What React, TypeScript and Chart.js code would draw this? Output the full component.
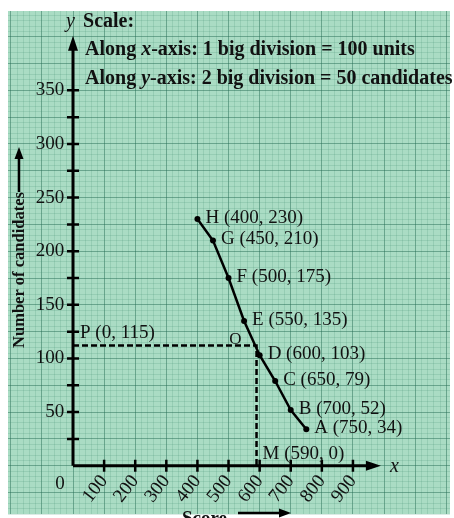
import React, { useEffect, useRef } from 'react';
import { Chart, registerables } from 'chart.js';

Chart.register(...registerables);

// ---- data ----
const pointNames = ['H', 'G', 'F', 'E', 'D', 'C', 'B', 'A'];
const scores = [400, 450, 500, 550, 600, 650, 700, 750];
const candidates = [230, 210, 175, 135, 103, 79, 52, 34];
const medianScore = 590; // M (590, 0)
const medianLevel = 112; // level where the dashed line is drawn
const pText = 'P (0, 115)';
const mText = 'M (590, 0)';
const xTickLabels = [100, 200, 300, 400, 500, 600, 700, 800, 900];
const yTickLabels = [50, 100, 150, 200, 250, 300, 350];
const yTickMarks = [25, 50, 75, 100, 125, 150, 175, 200, 225, 250, 275, 300, 325, 350];
const scaleLine1 = ['Along ', 'x', '-axis: 1 big division = 100 units'];
const scaleLine2 = ['Along ', 'y', '-axis: 2 big division = 50 candidates'];

// ---- styles ----
const SERIF = '"Liberation Serif", "Times New Roman", serif';
const PAPER = '#aadcc4';
const MAJOR = 'rgba(40, 110, 85, 0.5)';
const MINOR = 'rgba(60, 140, 110, 0.18)';
const INK = '#111';

function arrowHead(ctx: CanvasRenderingContext2D, x: number, y: number, dir: 'up' | 'right', len: number, half: number) {
  ctx.beginPath();
  if (dir === 'up') {
    ctx.moveTo(x, y);
    ctx.lineTo(x - half, y + len);
    ctx.lineTo(x + half, y + len);
  } else {
    ctx.moveTo(x, y);
    ctx.lineTo(x - len, y - half);
    ctx.lineTo(x - len, y + half);
  }
  ctx.closePath();
  ctx.fill();
}

const paperPlugin = {
  id: 'paper',
  beforeDraw(chart: any) {
    const { ctx, chartArea: a } = chart;
    ctx.save();
    ctx.fillStyle = '#ffffff';
    ctx.fillRect(0, 0, chart.width, chart.height);
    ctx.fillStyle = PAPER;
    ctx.fillRect(a.left, a.top, a.right - a.left, a.bottom - a.top);
    ctx.restore();
  },
};

const axesPlugin = {
  id: 'axesArrows',
  beforeDatasetsDraw(chart: any) {
    const { ctx } = chart;
    const xs = chart.scales.x;
    const ys = chart.scales.y;
    const ox = xs.getPixelForValue(0);
    const oy = ys.getPixelForValue(0);
    const xe = xs.getPixelForValue(990);
    const ye = ys.getPixelForValue(401);
    ctx.save();
    ctx.strokeStyle = '#000';
    ctx.fillStyle = '#000';
    ctx.lineWidth = 3;
    ctx.beginPath();
    ctx.moveTo(ox, oy);
    ctx.lineTo(xe - 8, oy);
    ctx.moveTo(ox, oy);
    ctx.lineTo(ox, ye + 8);
    ctx.stroke();
    arrowHead(ctx, xe, oy, 'right', 15, 5);
    arrowHead(ctx, ox, ye, 'up', 15, 5);
    ctx.lineWidth = 2.5;
    ctx.beginPath();
    xTickLabels.forEach((v) => {
      const px = xs.getPixelForValue(v);
      ctx.moveTo(px, oy - 6);
      ctx.lineTo(px, oy + 6);
    });
    yTickMarks.forEach((v) => {
      const py = ys.getPixelForValue(v);
      ctx.moveTo(ox - 6, py);
      ctx.lineTo(ox + 6, py);
    });
    ctx.stroke();
    ctx.restore();
  },
};

function drawRuns(ctx: CanvasRenderingContext2D, parts: string[], x: number, y: number, size: number) {
  let cx = x;
  parts.forEach((p, i) => {
    ctx.font = i === 1 ? `italic bold ${size}px ${SERIF}` : `bold ${size}px ${SERIF}`;
    ctx.fillText(p, cx, y);
    cx += ctx.measureText(p).width;
  });
}

const textPlugin = {
  id: 'texts',
  afterDatasetsDraw(chart: any) {
    const { ctx } = chart;
    const xs = chart.scales.x;
    const ys = chart.scales.y;
    const ox = xs.getPixelForValue(0);
    const oy = ys.getPixelForValue(0);
    const meta = chart.getDatasetMeta(0);
    ctx.save();
    ctx.fillStyle = INK;
    ctx.textAlign = 'left';
    ctx.textBaseline = 'middle';
    ctx.font = `19px ${SERIF}`;
    meta.data.forEach((el: any, i: number) => {
      ctx.fillText(`${pointNames[i]} (${scores[i]}, ${candidates[i]})`, el.x + 8, el.y - 1);
    });
    // P and M labels
    ctx.fillText(pText, ox + 7, ys.getPixelForValue(medianLevel) - 13);
    ctx.fillText(mText, xs.getPixelForValue(medianScore) + 6, oy - 12);
    // O mark near the dashed line
    ctx.textAlign = 'center';
    ctx.font = `17px ${SERIF}`;
    ctx.fillText('O', xs.getPixelForValue(522), ys.getPixelForValue(118));
    // origin
    ctx.font = `19px ${SERIF}`;
    ctx.fillText('0', ox - 13, oy + 18);
    // axis letters
    ctx.textAlign = 'left';
    ctx.textBaseline = 'alphabetic';
    ctx.font = `italic 20px ${SERIF}`;
    ctx.fillText('x', xs.getPixelForValue(990) + 9, oy + 6);
    ctx.fillText('y', ox - 7, 27);
    // scale block
    ctx.font = `bold 20px ${SERIF}`;
    ctx.fillText('Scale:', ox + 10, 27);
    drawRuns(ctx, scaleLine1, ox + 12, 55, 20);
    drawRuns(ctx, scaleLine2, ox + 12, 84, 20);
    // x title with arrow
    ctx.font = `bold 19px ${SERIF}`;
    ctx.fillText('Score', 182, 524);
    ctx.strokeStyle = '#000';
    ctx.fillStyle = '#000';
    ctx.lineWidth = 2.5;
    ctx.beginPath();
    ctx.moveTo(238, 513);
    ctx.lineTo(280, 513);
    ctx.stroke();
    arrowHead(ctx, 291, 513, 'right', 12, 4.5);
    // y title with arrow
    ctx.save();
    ctx.translate(19, 270);
    ctx.rotate(-Math.PI / 2);
    ctx.textAlign = 'center';
    ctx.textBaseline = 'middle';
    ctx.font = `bold 16.5px ${SERIF}`;
    ctx.fillStyle = INK;
    ctx.fillText('Number of candidates', 0, 1);
    ctx.restore();
    ctx.beginPath();
    ctx.moveTo(19, 192);
    ctx.lineTo(19, 158);
    ctx.stroke();
    arrowHead(ctx, 19, 147, 'up', 12, 4.5);
    ctx.restore();
  },
};

const noPadding = (scale: any) => {
  scale.paddingLeft = 0;
  scale.paddingRight = 0;
  scale.paddingTop = 0;
  scale.paddingBottom = 0;
};

export default function App() {
  const canvasRef = useRef<HTMLCanvasElement | null>(null);

  useEffect(() => {
    document.body.style.margin = '0';
    document.body.style.overflow = 'hidden';
    const canvas = canvasRef.current;
    if (!canvas) return;
    const ogive = scores.map((s, i) => ({ x: s, y: candidates[i] }));
    const dashed = [
      { x: 0, y: medianLevel },
      { x: medianScore, y: medianLevel },
      { x: medianScore, y: 0 },
    ];
    const gridColor = (c: any) => (c.tick && Math.round(c.tick.value) % 100 === 0 ? MAJOR : MINOR);
    const gridColorY = (c: any) => (c.tick && Math.round(c.tick.value) % 25 === 0 ? MAJOR : MINOR);
    const chart = new Chart(canvas, {
      type: 'line',
      data: {
        datasets: [
          {
            label: 'Ogive',
            data: ogive,
            borderColor: '#000',
            backgroundColor: '#000',
            borderWidth: 2.5,
            pointRadius: 3,
            pointBackgroundColor: '#000',
            pointBorderWidth: 0,
            tension: 0,
          },
          {
            label: 'Median',
            data: dashed,
            borderColor: '#000',
            borderWidth: 2.5,
            borderDash: [6, 3],
            pointRadius: 0,
            tension: 0,
          },
        ],
      },
      options: {
        animation: false,
        responsive: false,
        devicePixelRatio: 1,
        layout: { padding: { left: 8, top: 11, right: 0, bottom: 0 } },
        plugins: { legend: { display: false }, tooltip: { enabled: false } },
        scales: {
          x: {
            type: 'linear',
            min: -209,
            max: 1212,
            position: { y: 0 } as any,
            afterFit: noPadding,
            border: { display: false },
            grid: { color: gridColor, lineWidth: 1, drawTicks: false },
            ticks: {
              stepSize: 20,
              autoSkip: false,
              includeBounds: false,
              minRotation: 52,
              maxRotation: 52,
              padding: 5,
              color: INK,
              font: { family: SERIF, size: 19 },
              callback: (v: any) => (xTickLabels.includes(Math.round(Number(v))) ? String(Math.round(Number(v))) : ''),
            },
          },
          y: {
            type: 'linear',
            min: -45,
            max: 424,
            position: { x: -28 } as any,
            afterFit: noPadding,
            border: { display: false },
            grid: { color: gridColorY, lineWidth: 1, drawTicks: false },
            ticks: {
              stepSize: 5,
              autoSkip: false,
              includeBounds: false,
              padding: 0,
              color: INK,
              font: { family: SERIF, size: 19 },
              callback: (v: any) => (yTickLabels.includes(Math.round(Number(v))) ? String(Math.round(Number(v))) : ''),
            },
          },
        },
      },
      plugins: [paperPlugin, axesPlugin, textPlugin],
    } as any);
    return () => chart.destroy();
  }, []);

  return (
    <div style={{ width: 454, height: 518 }}>
      <canvas ref={canvasRef} width={454} height={518} style={{ display: 'block' }} />
    </div>
  );
}
